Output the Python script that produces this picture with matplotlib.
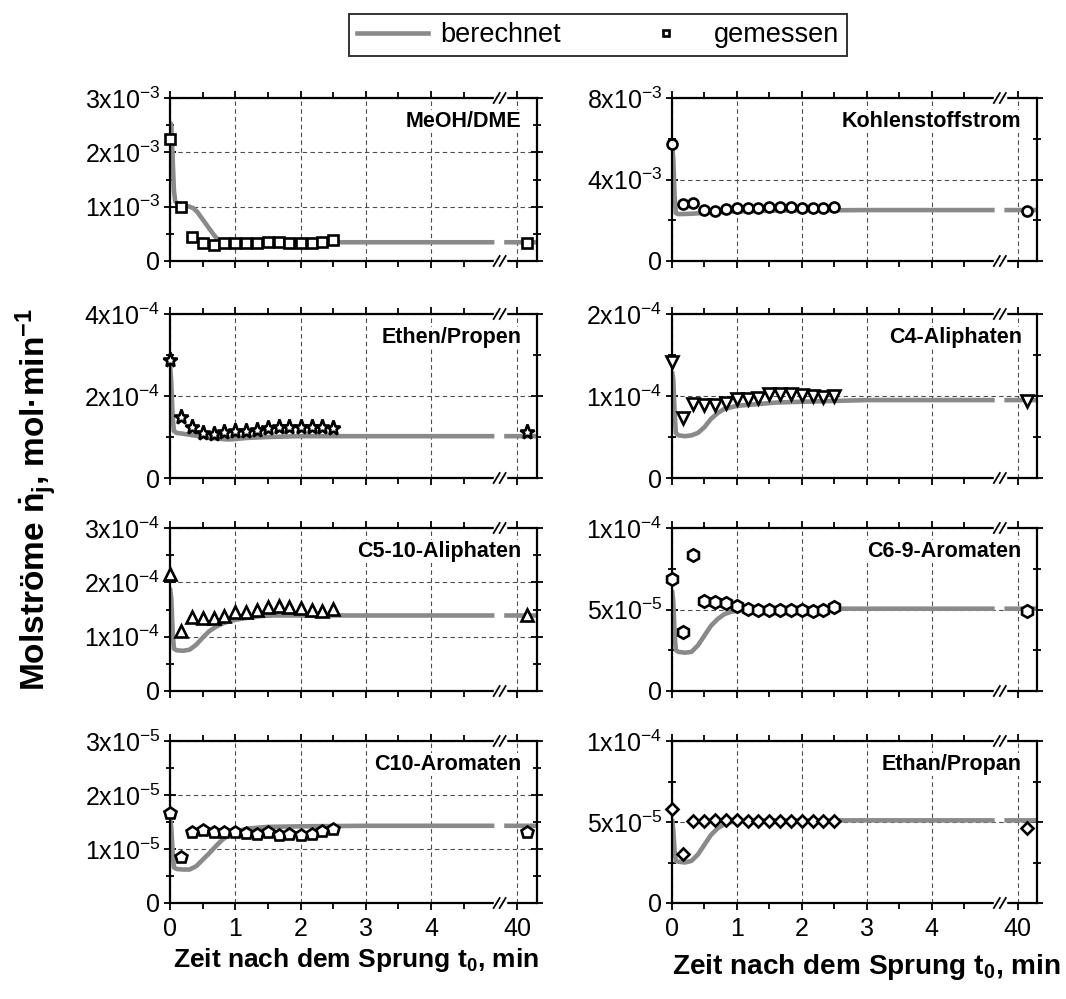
import matplotlib
matplotlib.use("Agg")
import matplotlib.pyplot as plt
from matplotlib.lines import Line2D
import numpy as np

plt.rcParams['font.family'] = ['Liberation Sans', 'DejaVu Sans']
plt.rcParams['mathtext.fontset'] = 'custom'
plt.rcParams['mathtext.rm'] = 'Liberation Sans'
plt.rcParams['mathtext.bf'] = 'Liberation Sans:bold'
plt.rcParams['mathtext.it'] = 'Liberation Sans:italic'
plt.rcParams['mathtext.default'] = 'regular'
plt.rcParams['axes.unicode_minus'] = False

nan = np.nan

# time of the measured samples, min (the last one sits behind the axis break)
t_meas = [0.0, 0.17, 0.33, 0.5, 0.67, 0.83, 1.0, 1.17, 1.33, 1.5, 1.67,
          1.83, 2.0, 2.17, 2.33, 2.5, 41.0]

# model curves, NaN marks the gap at the axis break
t_calc_meoh = [0, 0.02, 0.04, 0.06, 0.08, 0.12, 0.2, 0.3, 0.36, 0.42, 0.48,
               0.54, 0.6, 0.66, 0.72, 0.8, 0.9, 1.0, 1.2, 1.5, 2.0, 3.0, 4.97,
               nan, 38.65, 42]
meoh_calc = [2.56, 2.5, 1.9, 1.3, 1.1, 1.05, 1.03, 1.0, 0.97, 0.9, 0.8,
             0.7, 0.6, 0.5, 0.41, 0.32, 0.29, 0.3, 0.33, 0.34, 0.345, 0.345,
             0.345, nan, 0.345, 0.345]
meoh_meas = [2.24, 1.0, 0.436, 0.326, 0.30, 0.326, 0.326, 0.33, 0.34, 0.345,
             0.345, 0.34, 0.34, 0.34, 0.345, 0.38, 0.33]

t_calc_c = [0, 0.02, 0.04, 0.06, 0.1, 0.3, 0.6, 1.0, 1.5, 2.0, 3.0, 4.97,
            nan, 38.65, 42]
c_calc = [5.8, 5.0, 3.2, 2.35, 2.3, 2.32, 2.38, 2.43, 2.47, 2.48, 2.5, 2.5,
          nan, 2.5, 2.5]
c_meas = [5.73, 2.78, 2.83, 2.50, 2.45, 2.55, 2.62, 2.58, 2.62, 2.67, 2.67,
          2.67, 2.62, 2.58, 2.58, 2.67, 2.47]

t_calc_olef = [0, 0.02, 0.04, 0.06, 0.1, 0.2, 0.4, 0.6, 0.8, 0.9, 1.0, 1.2,
               1.5, 2.0, 3.0, 4.97, nan, 38.65, 42]
olef_calc = [2.8, 2.3, 1.5, 1.15, 1.1, 1.08, 1.03, 0.98, 0.95, 0.94, 0.95,
             0.98, 1.0, 1.02, 1.02, 1.02, nan, 1.02, 1.02]
olef_meas = [2.88, 1.50, 1.25, 1.105, 1.07, 1.13, 1.15, 1.15, 1.17, 1.21,
             1.25, 1.25, 1.25, 1.25, 1.25, 1.23, 1.13]

t_calc_c4 = [0, 0.02, 0.04, 0.06, 0.1, 0.2, 0.3, 0.4, 0.5, 0.6, 0.7, 0.8,
             0.9, 1.0, 1.3, 1.6, 2.0, 2.5, 3.0, 4.97, nan, 38.65, 42]
c4_calc = [1.3, 1.2, 0.8, 0.55, 0.52, 0.51, 0.52, 0.55, 0.62, 0.72, 0.79,
           0.84, 0.86, 0.88, 0.9, 0.92, 0.93, 0.94, 0.95, 0.95, nan, 0.95,
           0.95]
c4_meas = [1.415, 0.728, 0.90, 0.886, 0.89, 0.92, 0.963, 0.967, 0.98, 1.02,
           1.024, 1.02, 1.008, 1.004, 0.988, 1.0, 0.94]

t_calc_c510 = [0, 0.02, 0.04, 0.06, 0.1, 0.2, 0.3, 0.4, 0.5, 0.6, 0.7, 0.8,
               0.9, 1.0, 1.2, 1.4, 1.6, 2.0, 3.0, 4.97, nan, 38.65, 42]
c510_calc = [1.9, 1.7, 1.1, 0.78, 0.75, 0.74, 0.76, 0.85, 0.98, 1.1, 1.18,
             1.24, 1.28, 1.31, 1.35, 1.38, 1.39, 1.39, 1.39, 1.39, nan, 1.39,
             1.39]
c510_meas = [2.16, 1.11, 1.356, 1.34, 1.34, 1.386, 1.454, 1.454, 1.49, 1.54,
             1.57, 1.54, 1.52, 1.49, 1.47, 1.51, 1.40]

t_calc_a69 = [0, 0.02, 0.04, 0.06, 0.1, 0.2, 0.3, 0.4, 0.5, 0.6, 0.7, 0.8,
              0.9, 1.0, 1.2, 1.5, 2.0, 3.0, 4.97, nan, 38.65, 42]
a69_calc = [62, 55, 35, 25, 24, 23.5, 24, 28, 34, 40, 44, 47, 48.5, 49.3, 50,
            50.3, 50.5, 50.5, 50.5, nan, 50.5, 50.5]
a69_meas = [69.0, 36.3, 83.7, 55.1, 54.5, 53.7, 52.0, 50.6, 50.0, 50.0, 50.0,
            50.0, 49.6, 49.0, 49.6, 51.6, 49.0]

t_calc_a10 = [0, 0.02, 0.04, 0.06, 0.1, 0.2, 0.3, 0.4, 0.5, 0.6, 0.7, 0.8,
              0.9, 1.0, 1.2, 1.5, 2.0, 3.0, 4.97, nan, 38.65, 42]
a10_calc = [1.55, 1.4, 0.95, 0.66, 0.63, 0.62, 0.62, 0.68, 0.8, 0.92, 1.05,
            1.17, 1.26, 1.32, 1.38, 1.41, 1.42, 1.43, 1.43, nan, 1.43, 1.43]
a10_meas = [1.66, 0.846, 1.32, 1.35, 1.31, 1.31, 1.32, 1.30, 1.28, 1.31, 1.26,
            1.28, 1.26, 1.28, 1.33, 1.37, 1.31]

t_calc_par = [0, 0.02, 0.04, 0.06, 0.1, 0.2, 0.3, 0.4, 0.5, 0.6, 0.7, 0.8,
              0.9, 1.0, 1.2, 1.5, 2.0, 3.0, 4.97, nan, 38.65, 42]
par_calc = [52, 45, 32, 26, 25.5, 25, 26, 30, 36, 42, 46, 48.5, 49.8, 50.5,
            51, 51, 51, 51, 51, nan, 51, 51]
par_meas = [57.8, 30.0, 50.6, 50.6, 51.0, 51.0, 51.0, 50.6, 50.6, 50.6, 50.6,
            50.6, 50.6, 50.6, 50.6, 50.6, 46.5]

panels = [
    ("MeOH/DME", t_calc_meoh, meoh_calc, meoh_meas, 1e-3, 's', 6.6,
     [0, 1, 2, 3], ['0', '1x10$^{-3}$', '2x10$^{-3}$', '3x10$^{-3}$'], 0.5),
    ("Kohlenstoffstrom", t_calc_c, c_calc, c_meas, 1e-3, 'o', 7.2,
     [0, 4, 8], ['0', '4x10$^{-3}$', '8x10$^{-3}$'], 2),
    ("Ethen/Propen", t_calc_olef, olef_calc, olef_meas, 1e-4, '*', 11,
     [0, 2, 4], ['0', '2x10$^{-4}$', '4x10$^{-4}$'], 1),
    ("C4-Aliphaten", t_calc_c4, c4_calc, c4_meas, 1e-4, 'v', 9,
     [0, 1, 2], ['0', '1x10$^{-4}$', '2x10$^{-4}$'], 0.5),
    ("C5-10-Aliphaten", t_calc_c510, c510_calc, c510_meas, 1e-4, '^', 9,
     [0, 1, 2, 3], ['0', '1x10$^{-4}$', '2x10$^{-4}$', '3x10$^{-4}$'], 0.5),
    ("C6-9-Aromaten", t_calc_a69, a69_calc, a69_meas, 1e-6, 'h', 9,
     [0, 50, 100], ['0', '5x10$^{-5}$', '1x10$^{-4}$'], 25),
    ("C10-Aromaten", t_calc_a10, a10_calc, a10_meas, 1e-5, 'p', 9,
     [0, 1, 2, 3], ['0', '1x10$^{-5}$', '2x10$^{-5}$', '3x10$^{-5}$'], 0.5),
    ("Ethan/Propan", t_calc_par, par_calc, par_meas, 1e-6, 'D', 6.4,
     [0, 50, 100], ['0', '5x10$^{-5}$', '1x10$^{-4}$'], 25),
]

x_ticks = [0, 1, 2, 3, 4, 40]
x_minor = [0.5, 1.5, 2.5, 3.5, 4.5]

# broken time axis: 0..5 min linear, then a compressed piece around 40 min
brk_t = [-10, 0, 5.07, 38.35, 60]
brk_x = [-10, 0, 5.07, 5.075, 5.075 + (60 - 38.35) * 0.15]


def fwd(t):
    return np.interp(t, brk_t, brk_x)


def inv(x):
    return np.interp(x, brk_x, brk_t)


W, H = 1066, 999
fig = plt.figure(figsize=(W / 100, H / 100), dpi=100)

cols = [(170, 537), (672, 1037)]
rows = [(98, 261), (314, 478), (528, 691), (741, 903)]
line_grey = '#8a8a8a'
xmax = 42
break_t = 5.05

for i, (name, tc, yc, ym, unit, mk, ms, yt, ytl, ymin_step) in enumerate(panels):
    r, c = divmod(i, 2)
    x0, x1 = cols[c]
    y0, y1 = rows[r]
    ax = fig.add_axes([x0 / W, 1 - y1 / H, (x1 - x0) / W, (y1 - y0) / H])
    ax.set_xscale('function', functions=(fwd, inv))
    ax.set_xlim(0, xmax)
    ax.set_ylim(0, yt[-1] * unit)

    ax.plot(tc, np.array(yc) * unit, color=line_grey, lw=3.3, zorder=2,
            solid_capstyle='butt')
    ax.plot(t_meas, np.array(ym) * unit, ls='none', marker=mk, ms=ms,
            mfc='white', mec='black', mew=1.9, zorder=4, clip_on=False)

    ax.set_xticks(x_ticks)
    ax.set_xticks(x_minor, minor=True)
    ax.set_xticklabels([str(v) for v in x_ticks])
    ax.set_yticks(np.array(yt) * unit)
    ax.set_yticklabels(ytl)
    ax.set_yticks(np.arange(0, yt[-1] + 1e-9, ymin_step) * unit, minor=True)

    ax.grid(True, which='major', ls=(0, (4, 3)), color='0.3', lw=0.8)
    ax.set_axisbelow(True)
    for s in ax.spines.values():
        s.set_linewidth(1.6)

    ax.tick_params(axis='x', which='both', direction='out', top=True,
                   bottom=True, width=1.3, labelsize=18, pad=5,
                   labelbottom=(r == 3))
    ax.tick_params(axis='x', which='major', length=5)
    ax.tick_params(axis='x', which='minor', length=4)
    ax.tick_params(axis='y', which='both', direction='inout', left=True,
                   right=True, width=1.3, labelsize=18, pad=3)
    ax.tick_params(axis='y', which='major', length=8)
    ax.tick_params(axis='y', which='minor', length=6)

    ax.text(0.958, 0.855, name, transform=ax.transAxes, ha='right',
            va='center', fontsize=15.5, fontweight='bold', zorder=5,
            bbox=dict(facecolor='white', edgecolor='none', pad=0.5))

    # "//" marks where the time axis is interrupted
    bw = (x1 - x0)
    bh = (y1 - y0)
    xb = fwd(break_t) / fwd(xmax)
    for yb in (0, 1):
        ax.plot([xb - 5 / bw, xb + 5 / bw], [yb, yb], color='white', lw=2.5,
                transform=ax.transAxes, clip_on=False, zorder=5)
        for off in (-3, 3):
            ax.plot([xb + (off - 3) / bw, xb + (off + 3) / bw],
                    [yb - 5 / bh, yb + 5 / bh], color='black', lw=1.3,
                    transform=ax.transAxes, clip_on=False, zorder=6)

    if r == 3:
        ax.set_xlabel('Zeit nach dem Sprung t$_\\mathbf{0}$, min',
                      fontsize=19 if c == 0 else 20.2, fontweight='bold',
                      labelpad=4 if c == 0 else 8)
        ax.xaxis.label.set_x(0.507 if c == 0 else 0.532)

fig.text(0.034, 0.5, 'Molströme $\\dot{\\mathbf{n}}_\\mathbf{j}$, mol·min$^\\mathbf{-1}$',
         rotation=90, ha='center', va='center', fontsize=24,
         fontweight='bold')

handles = [Line2D([], [], color=line_grey, lw=3.3),
           Line2D([], [], ls='none', marker='s', ms=5, mfc='white',
                  mec='black', mew=1.9)]
leg = fig.legend(handles, ['berechnet', 'gemessen'], loc='center',
                 bbox_to_anchor=(598 / W, 1 - 35 / H), ncol=2,
                 fancybox=False, edgecolor='black', fontsize=19.5,
                 handlelength=2.6, columnspacing=2.6, handletextpad=0.45,
                 borderpad=0.3)
leg.get_frame().set_linewidth(1.4)

fig.savefig('out.png', dpi=100)
